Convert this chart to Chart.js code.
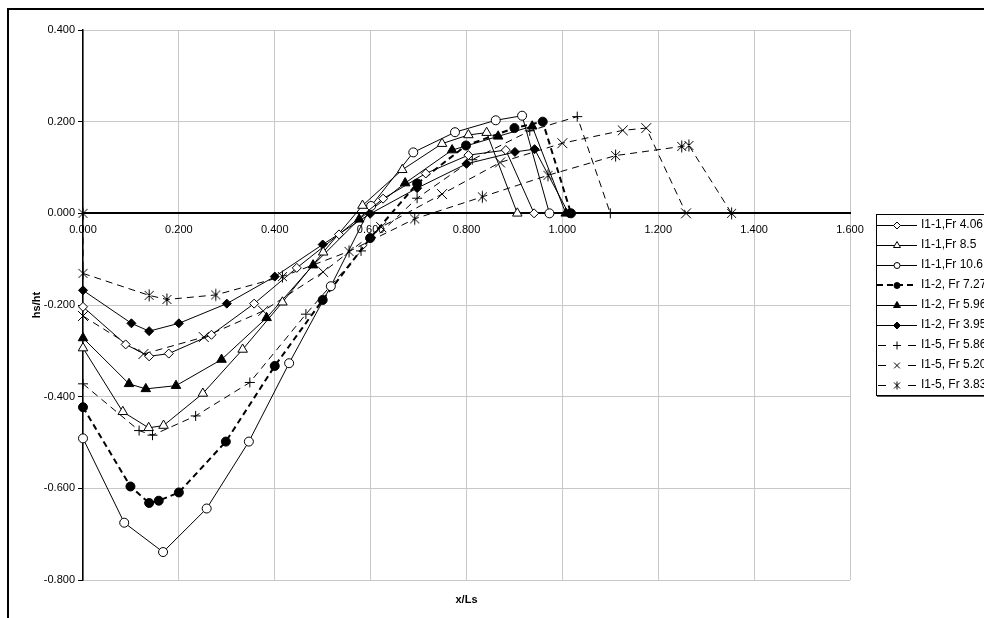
<!DOCTYPE html>
<html>
<head>
<meta charset="utf-8">
<script src="https://cdn.jsdelivr.net/npm/chart.js@4.4.1/dist/chart.umd.min.js"></script>
<style>
  html, body { margin: 0; padding: 0; background: #fff; overflow: hidden; width: 984px; height: 618px; }
  #frame { position: absolute; left: 7px; top: 8px; width: 1100px; height: 700px;
           border-left: 2px solid #000; border-top: 2px solid #000; }
  #wrap { position: absolute; left: 10px; top: 11px; }
</style>
</head>
<body>
<div id="frame"></div>
<div id="wrap"><canvas id="chart" width="981" height="607" style="width:981px;height:607px"></canvas></div>
<script>
const seriesNames = ["I1-1,Fr 4.06", "I1-1,Fr 8.5", "I1-1,Fr 10.6", "I1-2, Fr 7.27", "I1-2, Fr 5.96",
                     "I1-2, Fr 3.95", "I1-5, Fr 5.86", "I1-5, Fr 5.20", "I1-5, Fr 3.83"];

const fr406X = [0, 0.089, 0.138, 0.179, 0.268, 0.357, 0.446, 0.534, 0.626, 0.715, 0.804, 0.882, 0.941];
const fr406Y = [-0.204, -0.286, -0.312, -0.306, -0.265, -0.197, -0.119, -0.046, 0.032, 0.087, 0.127, 0.138, 0];

const fr85X = [0, 0.083, 0.137, 0.168, 0.250, 0.333, 0.416, 0.501, 0.583, 0.666, 0.749, 0.804, 0.842, 0.906];
const fr85Y = [-0.294, -0.433, -0.468, -0.463, -0.393, -0.297, -0.194, -0.085, 0.017, 0.095, 0.152, 0.171, 0.176, 0];

const fr106X = [0, 0.086, 0.167, 0.258, 0.346, 0.430, 0.517, 0.601, 0.689, 0.776, 0.861, 0.916, 0.973];
const fr106Y = [-0.491, -0.675, -0.739, -0.644, -0.498, -0.327, -0.159, 0.016, 0.133, 0.177, 0.203, 0.213, 0];

const fr727X = [0, 0.099, 0.138, 0.158, 0.200, 0.298, 0.400, 0.500, 0.599, 0.697, 0.799, 0.900, 0.959, 1.018];
const fr727Y = [-0.423, -0.596, -0.632, -0.627, -0.609, -0.498, -0.333, -0.189, -0.054, 0.065, 0.148, 0.186, 0.200, 0];

const fr596X = [0, 0.096, 0.131, 0.194, 0.289, 0.383, 0.480, 0.576, 0.672, 0.770, 0.866, 0.937, 1.007];
const fr596Y = [-0.272, -0.372, -0.383, -0.376, -0.319, -0.228, -0.113, -0.013, 0.066, 0.138, 0.168, 0.190, 0];

const fr395X = [0, 0.101, 0.138, 0.200, 0.300, 0.400, 0.500, 0.599, 0.697, 0.800, 0.901, 0.942, 1.013];
const fr395Y = [-0.168, -0.240, -0.257, -0.240, -0.197, -0.138, -0.068, -0.001, 0.055, 0.108, 0.134, 0.140, 0];

const fr586X = [0, 0.117, 0.145, 0.235, 0.348, 0.465, 0.580, 0.697, 0.812, 0.932, 1.031, 1.100];
const fr586Y = [-0.372, -0.474, -0.484, -0.442, -0.369, -0.220, -0.082, 0.033, 0.117, 0.180, 0.211, 0];

const fr520X = [0, 0.126, 0.252, 0.376, 0.501, 0.622, 0.749, 0.870, 1.000, 1.126, 1.175, 1.258];
const fr520Y = [-0.224, -0.307, -0.270, -0.213, -0.128, -0.030, 0.042, 0.111, 0.153, 0.181, 0.186, 0];

const fr383X = [0, 0, 0.138, 0.175, 0.277, 0.416, 0.555, 0.692, 0.833, 0.970, 1.111, 1.249, 1.264, 1.353];
const fr383Y = [0, -0.131, -0.179, -0.188, -0.178, -0.138, -0.083, -0.012, 0.036, 0.083, 0.126, 0.146, 0.148, 0];

const seriesX = [fr406X, fr85X, fr106X, fr727X, fr596X, fr395X, fr586X, fr520X, fr383X];
const seriesY = [fr406Y, fr85Y, fr106Y, fr727Y, fr596Y, fr395Y, fr586Y, fr520Y, fr383Y];

const FONT = "'Liberation Sans', Arial, sans-serif";

// marker drawing for the legend samples and the asterisk point
function drawMarker(g, kind, x, y, r, filled) {
    g.save();
    g.setLineDash([]);
    g.lineWidth = 1;
    g.strokeStyle = "#000";
    g.fillStyle = filled ? "#000" : "#fff";
    g.beginPath();
    if (kind === "circle") {
        g.arc(x, y, r, 0, Math.PI * 2);
        g.fill(); g.stroke();
    } else if (kind === "triangle") {
        g.moveTo(x, y - r);
        g.lineTo(x + r * 0.866, y + r * 0.5);
        g.lineTo(x - r * 0.866, y + r * 0.5);
        g.closePath();
        g.fill(); g.stroke();
    } else if (kind === "rectRot") {
        g.moveTo(x, y - r); g.lineTo(x + r, y); g.lineTo(x, y + r); g.lineTo(x - r, y);
        g.closePath();
        g.fill(); g.stroke();
    } else if (kind === "cross") {
        g.moveTo(x - r, y); g.lineTo(x + r, y);
        g.moveTo(x, y - r); g.lineTo(x, y + r);
        g.stroke();
    } else if (kind === "crossRot") {
        const d = r * 0.72;
        g.moveTo(x - d, y - d); g.lineTo(x + d, y + d);
        g.moveTo(x + d, y - d); g.lineTo(x - d, y + d);
        g.stroke();
    } else if (kind === "aster") {
        const d = r * 0.75;
        g.moveTo(x - d, y - d); g.lineTo(x + d, y + d);
        g.moveTo(x + d, y - d); g.lineTo(x - d, y + d);
        g.moveTo(x, y - r); g.lineTo(x, y + r);
        g.stroke();
    }
    g.restore();
}

function asteriskImage(r) {
    const c = document.createElement("canvas");
    const s = Math.ceil(r * 2 + 3);
    c.width = s; c.height = s;
    drawMarker(c.getContext("2d"), "aster", s / 2, s / 2, r, true);
    return c;
}

const looks = [
    { kind: "rectRot", r: 4.5, filled: false, dash: [], w: 1 },
    { kind: "triangle", r: 5.5, filled: false, dash: [], w: 1 },
    { kind: "circle", r: 4.5, filled: false, dash: [], w: 1 },
    { kind: "circle", r: 4.5, filled: true, dash: [6, 4], w: 2 },
    { kind: "triangle", r: 5.5, filled: true, dash: [], w: 1 },
    { kind: "rectRot", r: 4.5, filled: true, dash: [], w: 1 },
    { kind: "cross", r: 5, filled: true, dash: [7, 5], w: 1 },
    { kind: "crossRot", r: 7, filled: true, dash: [7, 5], w: 1 },
    { kind: "aster", r: 6, filled: true, dash: [7, 5], w: 1 }
];

function legendIcon(st) {
    const c = document.createElement("canvas");
    c.width = 40; c.height = 14;
    const g = c.getContext("2d");
    g.strokeStyle = "#000";
    g.lineWidth = st.w;
    g.beginPath();
    if (st.dash.length && st.w === 1) {
        g.moveTo(1, 7.5); g.lineTo(9, 7.5);
        g.moveTo(31, 7.5); g.lineTo(39, 7.5);
    } else if (st.dash.length) {
        g.setLineDash([6, 4]);
        g.moveTo(0, 7); g.lineTo(40, 7);
    } else {
        g.moveTo(0, 7.5); g.lineTo(40, 7.5);
    }
    g.stroke();
    const rr = st.kind === "triangle" ? 4 : (st.kind === "circle" ? 3 : (st.kind === "rectRot" ? 3.5 : 4));
    drawMarker(g, st.kind, 20, 7.5, rr, st.filled);
    return c;
}

const datasets = seriesNames.map((name, i) => {
    const st = looks[i];
    return {
        label: name,
        data: seriesX[i].map((x, j) => ({ x: x, y: seriesY[i][j] })),
        showLine: true,
        borderColor: "#000",
        borderWidth: st.w,
        borderDash: st.dash,
        tension: 0,
        fill: false,
        clip: false,
        pointStyle: st.kind === "aster" ? asteriskImage(st.r) : st.kind,
        pointRadius: st.r,
        pointHoverRadius: st.r,
        pointBackgroundColor: st.filled ? "#000" : "#fff",
        pointBorderColor: "#000",
        pointBorderWidth: 1
    };
});

const legendBox = {
    id: "legendBox",
    afterDraw(chart) {
        const hb = chart.legend && chart.legend.legendHitBoxes;
        if (!hb || !hb.length) return;
        const ctx = chart.ctx;
        const last = hb[hb.length - 1];
        const top = Math.round(hb[0].top - 5);
        const bottom = Math.round(last.top + last.height + 4);
        const left = Math.round(hb[0].left - 3);
        ctx.save();
        ctx.strokeStyle = "#000";
        ctx.lineWidth = 1;
        ctx.strokeRect(left + 0.5, top + 0.5, chart.width, bottom - top);
        ctx.strokeStyle = "#555";
        ctx.beginPath();
        ctx.moveTo(left + 1, bottom + 1.5);
        ctx.lineTo(chart.width, bottom + 1.5);
        ctx.stroke();
        ctx.restore();
    }
};

const fmt = v => (Math.abs(v) < 1e-9 ? 0 : v).toFixed(3);

new Chart(document.getElementById("chart"), {
    type: "scatter",
    data: { datasets: datasets },
    plugins: [legendBox],
    options: {
        responsive: false,
        animation: false,
        layout: { padding: { top: 19, left: 0, right: 0, bottom: 0 } },
        plugins: {
            tooltip: { enabled: false },
            legend: {
                position: "right",
                fullSize: false,
                maxWidth: 120,
                labels: {
                    usePointStyle: true,
                    pointStyleWidth: 36,
                    padding: 8,
                    color: "#000",
                    font: { family: FONT, size: 12 },
                    generateLabels: chart => chart.data.datasets.map((ds, i) => ({
                        text: ds.label,
                        pointStyle: legendIcon(looks[i]),
                        fillStyle: "#000",
                        strokeStyle: "#000",
                        lineWidth: 0,
                        hidden: false,
                        datasetIndex: i
                    }))
                }
            }
        },
        scales: {
            x: {
                type: "linear",
                position: { y: 0 },
                min: 0,
                max: 1.6,
                ticks: {
                    stepSize: 0.2,
                    autoSkip: false,
                    maxRotation: 0,
                    padding: 10,
                    color: "#000",
                    font: { family: FONT, size: 11 },
                    callback: v => fmt(v)
                },
                grid: { color: "#c8c8c8", lineWidth: 1, drawTicks: false },
                border: { color: "#000", width: 2 }
            },
            xt: {
                type: "linear",
                position: "bottom",
                min: 0,
                max: 1,
                grid: { display: false },
                border: { display: false },
                ticks: { display: false },
                title: {
                    display: true,
                    text: "x/Ls",
                    color: "#000",
                    font: { family: FONT, size: 11, weight: "bold" },
                    padding: { top: 0, bottom: 11 }
                },
                afterFit: s => { s.height = 38; }
            },
            y: {
                type: "linear",
                position: "left",
                min: -0.8,
                max: 0.4,
                ticks: {
                    stepSize: 0.2,
                    padding: 3,
                    color: "#000",
                    font: { family: FONT, size: 11 },
                    callback: v => fmt(v)
                },
                grid: { color: "#c8c8c8", lineWidth: 1, tickColor: "#000", tickLength: 5 },
                border: { color: "#000", width: 1.5 },
                title: {
                    display: true,
                    text: "hs/ht",
                    color: "#000",
                    font: { family: FONT, size: 11, weight: "bold" },
                    padding: { top: 20, bottom: 0 }
                },
                afterFit: s => { s.width = 73; }
            },
            yr: {
                type: "linear",
                position: "right",
                min: 0,
                max: 1,
                grid: { display: false },
                border: { display: false },
                ticks: { display: false },
                afterFit: s => { s.width = 21; }
            }
        }
    }
});
</script>
</body>
</html>
